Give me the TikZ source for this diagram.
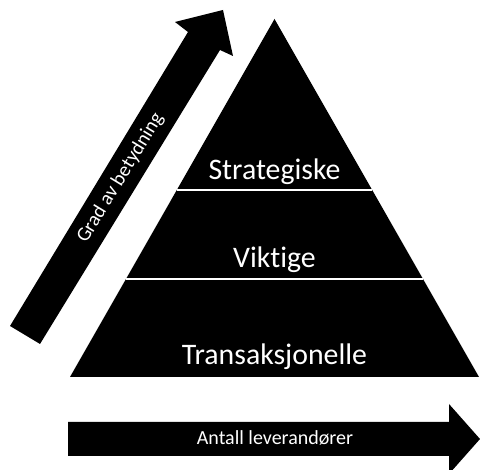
\documentclass[tikz,border=0pt]{standalone}
\usepackage{fontspec}
\setmainfont{Carlito}[Ligatures={NoCommon}]
\usetikzlibrary{calc}
\tikzset{
  blockfill/.style={fill=black, draw=none},
  levellabel/.style={text=white, font=\fontsize{29.8}{34}\selectfont, anchor=base, inner sep=0pt},
  arrowlabel/.style={text=white, font=\fontsize{20}{24}\selectfont, inner sep=0pt},
  divider/.style={draw=white, line width=2pt}
}
\begin{document}
\begin{tikzpicture}[x=1pt, y=-1pt]
  \useasboundingbox (0,0) rectangle (480,470);
  \fill[white] (0,0) rectangle (480,470);

  % pyramid
  \coordinate (apex) at (274.5,19);
  \coordinate (bl) at (70,377);
  \coordinate (br) at (479,377);
  \fill[blockfill] (apex) -- (bl) -- (br) -- cycle;
  \draw[divider] ($(apex)!0.4777!(bl)$) -- ($(apex)!0.4777!(br)$);
  \draw[divider] ($(apex)!0.7263!(bl)$) -- ($(apex)!0.7263!(br)$);
  \node[levellabel] (strat) at (274.5,180) {Strategiske};
  \node[levellabel] (vikt) at (274.5,268) {Viktige};
  \node[levellabel] (trans) at (274.5,365) {Transaksjonelle};

  % rising arrow
  \fill[blockfill] (10,326) -- (40,344) -- (220,50) -- (233,56) -- (223,10)
    -- (175,22) -- (188,32) -- cycle;
  \node[arrowlabel, rotate=58.6] (grad) at (120.5,178) {Grad av betydning};

  % horizontal arrow
  \fill[blockfill] (68,422) -- (449,422) -- (449,404) -- (480,439)
    -- (449,474) -- (449,456) -- (68,456) -- cycle;
  \node[arrowlabel, anchor=base] (antall) at (275,445) {Antall leverandører};
\end{tikzpicture}
\end{document}
